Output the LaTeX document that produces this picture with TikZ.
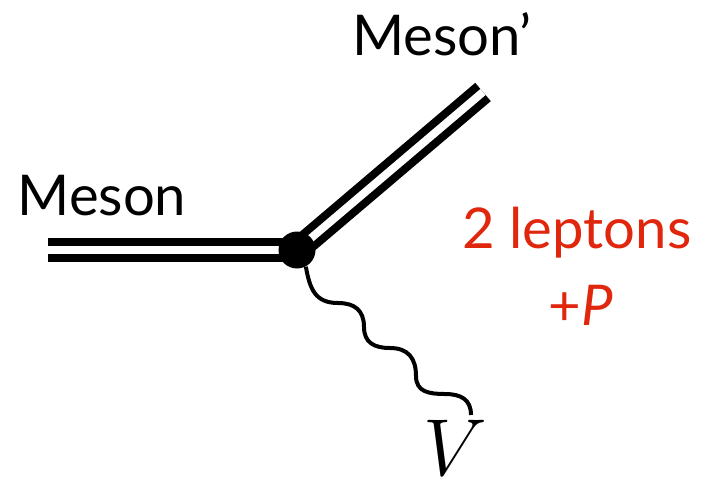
\RequirePackage{fix-cm}
\documentclass[tikz,border=0pt]{standalone}
\usepackage{fontspec}
\setmainfont{Lato}
\definecolor{lepred}{RGB}{224,38,12}

\begin{document}
\begin{tikzpicture}[x=0.02cm, y=0.02cm,
  every node/.style={font=\fontsize{32}{38}\selectfont, inner sep=0pt},
  hadron/.style={line width=0.16cm, double=white, double distance=0.16cm},
  boson/.style={line width=0.08cm}]
 \useasboundingbox (0,0) rectangle (709,-480);
 % vertex and the two meson lines
 \coordinate (vtx) at (297,-250);
 \coordinate (min) at (48,-250);
 \coordinate (mout) at (483,-92);
 \draw[hadron] (min) -- (vtx);
 \draw[hadron] (vtx) -- (mout);
 \node[circle, fill, minimum size=0.74cm] (dot) at (vtx) {};
 \node[anchor=base] (meson) at (102,-215) {Meson};
 \node[anchor=base] (mesonp) at (442,-55) {Meson’};
 % emitted V
 \coordinate (vend) at (471,-415);
 \draw[boson] (dot.-62) to[out=-80,in=180,looseness=1.2] (338,-303) to[out=0,in=90,looseness=1.2] (364,-327)
   to[out=-90,in=180,looseness=1.2] (390,-348) to[out=0,in=90,looseness=1.2] (416,-376)
   to[out=-90,in=180,looseness=1.2] (445,-394) to[out=0,in=90,looseness=1.2] (vend);
 \node[anchor=base, font=\fontsize{46}{50}\selectfont] (V) at (455,-475) {$V$};
 % final state
 \node[anchor=base, text=lepred] (lep) at (577,-248) {2 leptons};
 \node[anchor=base, text=lepred] (plusP) at (581,-325) {+\textit{P}};
\end{tikzpicture}
\end{document}
